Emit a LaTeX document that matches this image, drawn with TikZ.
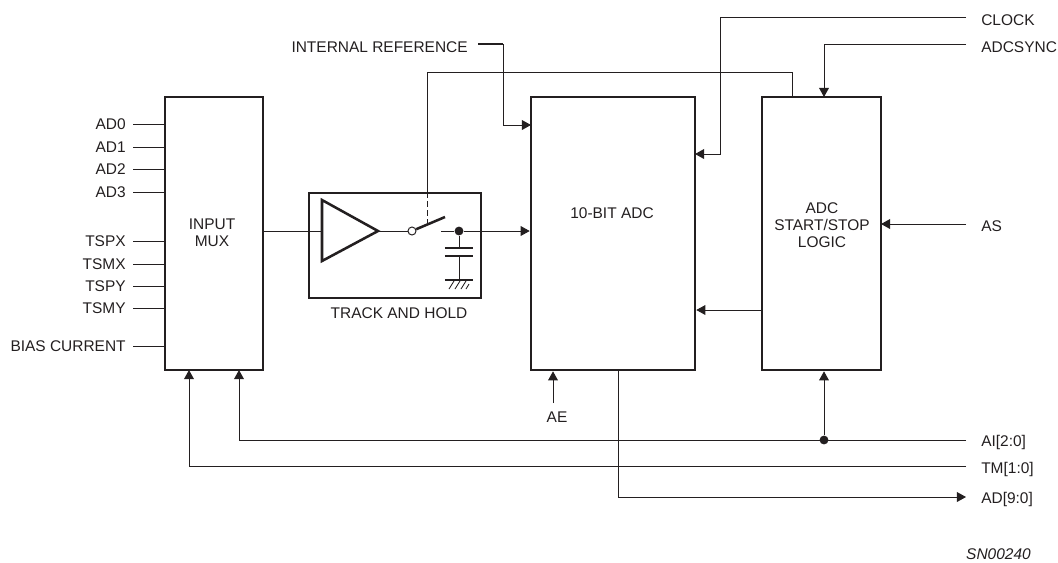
\documentclass[tikz,border=0pt]{standalone}
\usepackage{fontspec}
\setmainfont{Liberation Sans}
\usetikzlibrary{arrows.meta}
\definecolor{inkc}{HTML}{231F20}
\tikzset{
  blockbox/.style={draw, line width=1.8pt, align=center, inner sep=0pt},
  wire/.style={line width=0.7pt},
  sig/.style={wire, -{Triangle[length=6.5pt,width=7pt]}},
  heavy/.style={line width=1.8pt},
  junction/.style={circle, fill, inner sep=0pt, minimum size=6.3pt},
  pivot/.style={circle, draw, fill=white, line width=0.7pt, inner sep=0pt, minimum size=5.7pt},
  pinl/.style={anchor=east, inner xsep=5pt, inner ysep=0pt}
}

\begin{document}
\begin{tikzpicture}[x=0.025cm, y=-0.025cm, color=inkc, font=\fontsize{11}{12}\selectfont]
\useasboundingbox (0,0) rectangle (1058,562);

% blocks
\node[blockbox, minimum width=2.45cm, minimum height=6.825cm] (mux) at (214,233.5) {};
\node at (212,233) [align=center] (muxtext) {INPUT\\MUX};
\node[blockbox, minimum width=4.3cm, minimum height=2.625cm] (track) at (395,245.5) {};
\node at (399,313) (tracktext) {TRACK AND HOLD};
\node[blockbox, minimum width=4.1cm, minimum height=6.825cm] (adc) at (613,233.5) {};
\node at (612,213) (adctext) {10-BIT ADC};
\node[blockbox, minimum width=2.975cm, minimum height=6.825cm] (logic) at (821.5,233.5) {};
\node at (822,225) [align=center] (logictext) {ADC\\START/STOP\\LOGIC};

% mux inputs
\node[pinl] (ad0) at (133,124) {AD0};
\node[pinl] (ad1) at (133,147) {AD1};
\node[pinl] (ad2) at (133,169) {AD2};
\node[pinl] (ad3) at (133,192) {AD3};
\node[pinl] (tspx) at (133,241) {TSPX};
\node[pinl] (tsmx) at (133,264) {TSMX};
\node[pinl] (tspy) at (133,286) {TSPY};
\node[pinl] (tsmy) at (133,308) {TSMY};
\node[pinl] (bias) at (133,346) {BIAS CURRENT};
\draw[wire] (ad0.east) -- (ad0.east -| mux.west);
\draw[wire] (ad1.east) -- (ad1.east -| mux.west);
\draw[wire] (ad2.east) -- (ad2.east -| mux.west);
\draw[wire] (ad3.east) -- (ad3.east -| mux.west);
\draw[wire] (tspx.east) -- (tspx.east -| mux.west);
\draw[wire] (tsmx.east) -- (tsmx.east -| mux.west);
\draw[wire] (tspy.east) -- (tspy.east -| mux.west);
\draw[wire] (tsmy.east) -- (tsmy.east -| mux.west);
\draw[wire] (bias.east) -- (bias.east -| mux.west);

% track and hold
\coordinate (ampin) at (322,231);
\coordinate (amptop) at (322,200);
\coordinate (ampbot) at (322,261);
\coordinate (ampout) at (378,231);
\draw[heavy, line join=miter] (amptop) -- (ampout) -- (ampbot) -- cycle;
\draw[wire] (ampin -| mux.east) -- (ampin);
\node[pivot] (swpivot) at (412,231) {};
\coordinate (swtip) at (445,217);
\coordinate (swstub) at (441,231);
\node[junction] (hold) at (459,231) {};
\draw[wire] (ampout) -- (swpivot);
\draw[heavy] (swpivot) -- (swtip);
\draw[wire] (swstub) -- (hold);
\draw[sig] (hold) -- (hold -| adc.west);
\coordinate (capa) at (459,248);
\coordinate (capb) at (459,256);
\coordinate (gnd) at (459,280);
\draw[wire] (hold) -- (capa);
\draw[wire] (capb) -- (gnd);
\draw[heavy] ([xshift=-10]capa) -- ([xshift=10]capa);
\draw[heavy] ([xshift=-10]capb) -- ([xshift=10]capb);
\draw[heavy] ([xshift=-10]gnd) -- ([xshift=10]gnd);
\draw[line width=0.6pt] (454,281) -- (449,289) (460,281) -- (455,289) (466,281) -- (461,289) (469,284) -- (466,289);

% switch control
\coordinate (ctlstart) at (792,97);
\coordinate (ctlend) at (427,223);
\coordinate (ctltop) at (427,72);
\draw[wire] (ctlstart) |- (ctltop) -- (ctltop |- track.north);
\draw[wire, dash pattern=on 4.5pt off 2pt] (ctltop |- track.north) -- (ctlend);

% top signals
\node (intref) at (468,47) [anchor=east, inner xsep=0pt] {INTERNAL REFERENCE};
\coordinate (refstub) at (478,44);
\coordinate (refbend) at (503,44);
\coordinate (refin) at (531,125);
\draw[heavy] (refstub) -- (refbend);
\draw[sig] (refbend) |- (refin);

\coordinate (clockend) at (966,17.5);
\coordinate (clockin) at (695,154);
\coordinate (clockbend) at (720,17.5);
\node (clock) at (981,20) [anchor=west, inner xsep=0pt] {CLOCK};
\draw[sig] (clockend) -- (clockbend) |- (clockin);

\coordinate (syncend) at (966,44);
\coordinate (syncin) at (824,97);
\node (adcsync) at (981,47) [anchor=west, inner xsep=0pt] {ADCSYNC};
\draw[sig] (syncend) -| (syncin);

\coordinate (asend) at (966,224);
\coordinate (asin) at (881,224);
\node (as) at (981,226) [anchor=west, inner xsep=0pt] {AS};
\draw[sig] (asend) -- (asin);

% logic to adc
\coordinate (stopout) at (762,310);
\draw[sig] (stopout) -- (stopout -| adc.east);

% bottom signals
\coordinate (aeend) at (553,403);
\node (ae) at (557,417) {AE};
\draw[sig] (aeend) -- (aeend |- adc.south);

\coordinate (aiend) at (966,440);
\coordinate (aiin) at (239,370);
\node[junction] (aidot) at (824,440) {};
\node (ai) at (981,442) [anchor=west, inner xsep=0pt] {AI[2:0]};
\draw[sig] (aiend) -| (aiin);
\draw[sig] (aidot) -- (aidot |- logic.south);

\coordinate (tmend) at (966,466);
\coordinate (tmin) at (189,370);
\node (tm) at (981,469) [anchor=west, inner xsep=0pt] {TM[1:0]};
\draw[sig] (tmend) -| (tmin);

\coordinate (dataout) at (618,370);
\coordinate (dataend) at (966,497);
\node (data) at (981,499) [anchor=west, inner xsep=0pt] {AD[9:0]};
\draw[sig] (dataout) |- (dataend);

\node (refno) at (1031,554.5) [anchor=east, inner xsep=0pt, inner ysep=0pt, font=\fontsize{11}{12}\selectfont\itshape] {SN00240};
\end{tikzpicture}
\end{document}
